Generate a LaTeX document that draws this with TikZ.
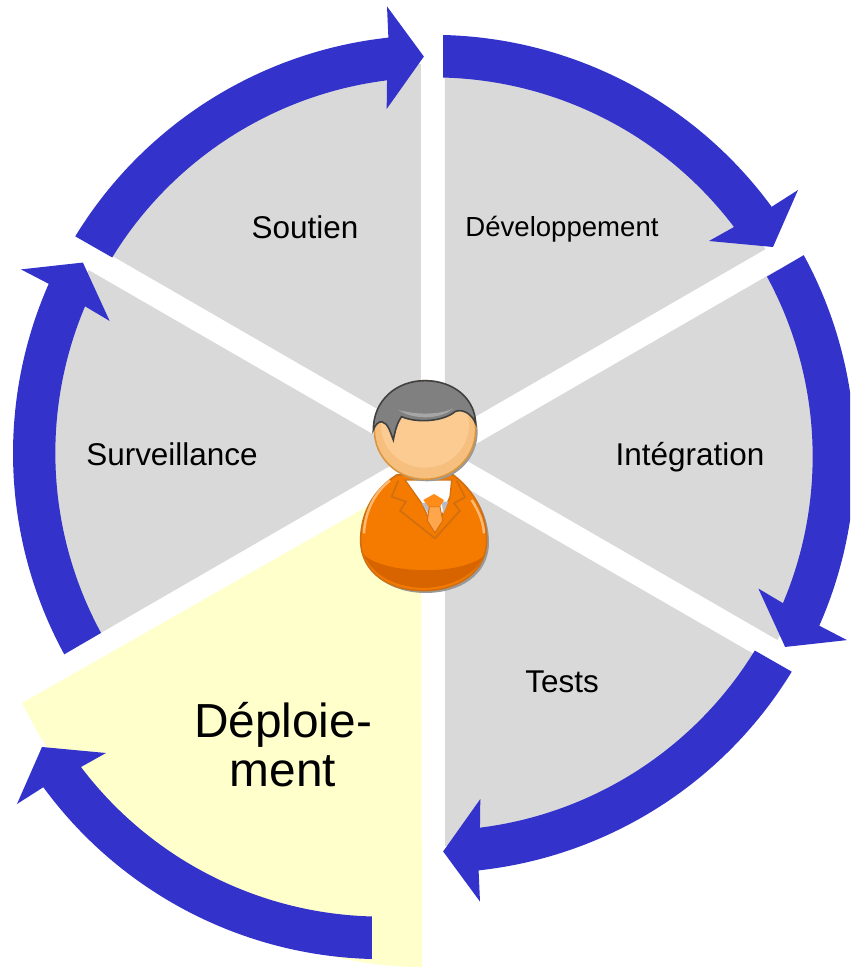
\documentclass[tikz,border=0pt]{standalone}
\usepackage{fontspec}
\setmainfont{Liberation Sans}
\definecolor{bleu}{HTML}{3333CC}
\definecolor{gris}{HTML}{D9D9D9}
\definecolor{jaune}{HTML}{FFFFCC}
\definecolor{costume}{HTML}{F47A00}
\definecolor{ombre}{HTML}{D86400}
\definecolor{trait}{HTML}{CF6F12}
\definecolor{peau}{HTML}{FBCB92}
\definecolor{joue}{HTML}{F7BF7E}
\definecolor{bord}{HTML}{D9963F}
\definecolor{cheveux}{HTML}{808080}
\tikzset{
    etiquette/.style={font=\fontsize{17.9}{21}\selectfont},
    petite/.style={font=\fontsize{15.7}{19}\selectfont},
    grande/.style={font=\fontsize{27.2}{28}\selectfont, align=center},
}
\newcommand{\secteur}{%
    \fill[gris] (12,20.8) -- (12,390.8) arc[start angle=90, end angle=30, radius=370] -- cycle;
}
\newcommand{\fleche}{%
    \fill[bleu] (10,420) arc[start angle=88.6, end angle=36.2, radius=420] -- (365,265) -- (340,208)
        -- (276,214) -- (301,228) arc[start angle=37.1, end angle=88.5, radius=377] -- cycle;
}
\begin{document}
\begin{tikzpicture}[x=0.02cm, y=0.02cm]
            \clip (-433,-512) rectangle (417,455);

            % Draw the grey sectors around the origin
            \foreach \angle in {0,-60,-120,-240,-300} {
            \begin{scope}[rotate=\angle]
                \secteur
            \end{scope}
            }

            % The sector that is pulled out
            \fill[jaune] (-12,-20.8) -- (-411,-248) .. controls (-333,-405) and (-173,-512) .. (-11,-512) -- cycle;

            % Arrows around the sectors
            \foreach \angle/\dx/\dy in {0/0/0,-60/2/-1.5,-120/0/2,-240/0/2,-300/1/0} {
            \begin{scope}[shift={(\dx,\dy)}, rotate=\angle]
                \fleche
            \end{scope}
            }
            \begin{scope}[shift={(-51,-84)}, rotate=-180]
                \fleche
            \end{scope}

            % Labels
            \node[etiquette] (soutien) at (-128,228) {Soutien};
            \node[petite] (developpement) at (129,226) {Développement};
            \node[etiquette] (surveillance) at (-261,1) {Surveillance};
            \node[etiquette] (integration) at (257,-2) {Intégration};
            \node[etiquette] (tests) at (129,-227) {Tests};
            \node[grande] (deploiement) at (-150,-290) {Déploie-\\ment};

            % The man in the middle, in a frame of his own
            \begin{scope}[shift={(-93,95)}, xscale=0.3333, yscale=-0.3333]
                \def\corps{(170,345) .. controls (100,390) and (62,460) .. (62,540)
                    .. controls (62,640) and (150,692) .. (250,692)
                    .. controls (350,692) and (440,640) .. (440,540)
                    .. controls (440,460) and (400,390) .. (340,345) -- cycle}
                \begin{scope}[shift={(7,7)}]
                    \fill[gray!80] \corps;
                \end{scope}
                \filldraw[fill=costume, draw=trait, line width=0.9pt] \corps;
                \fill[ombre] (72,585) .. controls (130,640) and (350,650) .. (430,590)
                    .. controls (400,650) and (330,682) .. (250,684) .. controls (170,682) and (100,650) .. (72,585) -- cycle;
                \draw[orange!55!white, line width=1.4pt] (150,362) .. controls (100,400) and (75,460) .. (72,520);
                \draw[orange!55!white, line width=1.4pt] (395,420) .. controls (420,460) and (430,490) .. (432,520);

                % lapels, shirt and tie
                \filldraw[fill=white, draw=trait, line width=0.7pt] (195,360) -- (335,360) -- (330,410) -- (285,515) -- (245,430) -- cycle;
                \fill[bleu!10!gray!50] (245,430) -- (270,425) -- (265,462) -- cycle;
                \fill[bleu!10!gray!50] (305,425) -- (325,425) -- (310,462) -- cycle;
                \filldraw[fill=orange!70!white, draw=trait, line width=0.5pt] (268,440) -- (300,440) -- (308,482) -- (285,518) -- (262,482) -- cycle;
                \fill[orange!90!white] (250,420) -- (282,402) -- (312,420) -- (300,440) -- (265,440) -- cycle;
                \draw[trait, line width=0.9pt] (175,362) -- (155,410) -- (198,425) -- (180,452) -- (285,535)
                    -- (360,452) -- (342,430) -- (375,412) -- (350,362);

                % head and hair
                \begin{scope}[shift={(6,6)}]
                    \fill[gray!80] (255,210) ellipse[x radius=152, y radius=148];
                \end{scope}
                \filldraw[fill=joue, draw=bord, line width=0.9pt] (255,210) ellipse[x radius=152, y radius=148];
                \fill[peau] (255,195) ellipse[x radius=132, y radius=128];
                \filldraw[fill=cheveux, draw=black!75, line width=0.9pt] (100,210) .. controls (100,120) and (170,62) .. (255,62)
                    .. controls (340,62) and (405,115) .. (407,190) .. controls (395,160) and (365,145) .. (345,155)
                    .. controls (310,185) and (230,190) .. (185,170) .. controls (170,190) and (165,215) .. (160,240)
                    .. controls (150,215) and (145,190) .. (125,185) .. controls (115,185) and (105,195) .. (100,210) -- cycle;
                \fill[gray!70] (175,150) .. controls (230,165) and (300,165) .. (340,145)
                    .. controls (300,180) and (220,180) .. (175,150) -- cycle;
            \end{scope}
        \end{tikzpicture}
\end{document}
